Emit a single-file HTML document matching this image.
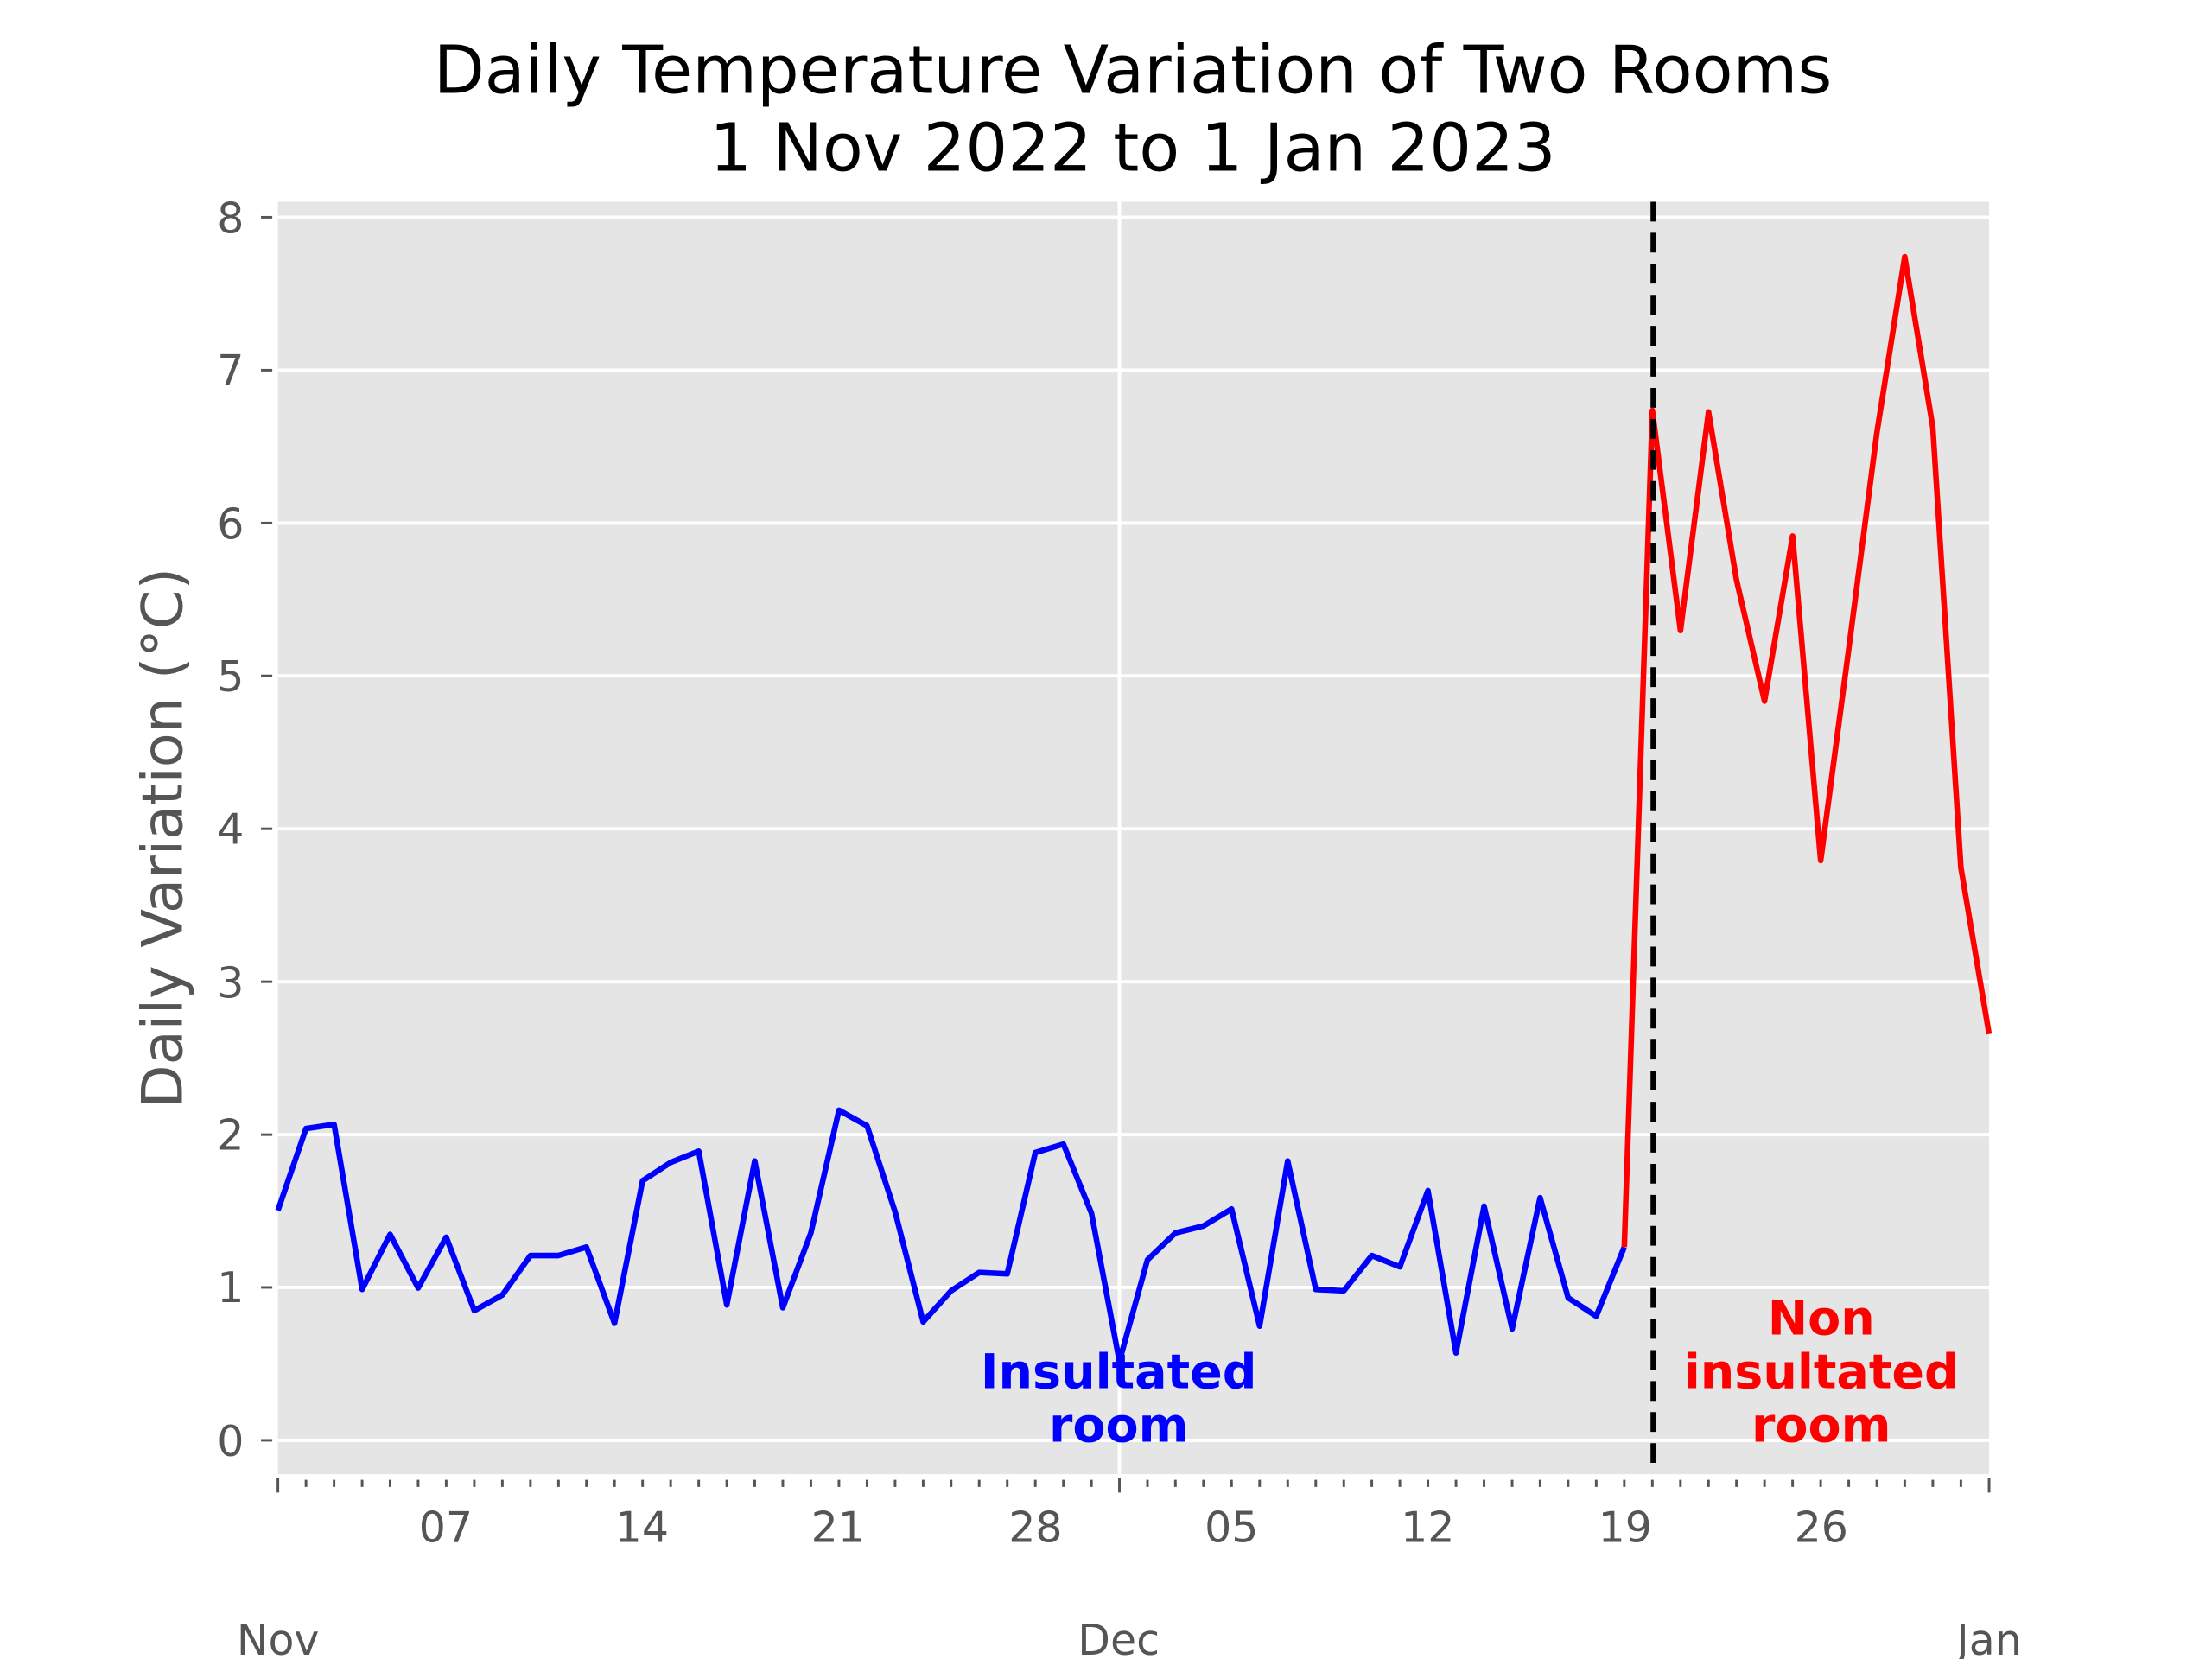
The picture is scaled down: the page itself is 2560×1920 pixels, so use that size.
<!DOCTYPE html>
<html><head><meta charset="utf-8"><style>html,body{margin:0;padding:0;background:#fff}svg{display:block}</style></head>
<body>
<svg xmlns="http://www.w3.org/2000/svg" width="2560" height="1920" viewBox="0 0 1568 1176" font-family="DejaVu Sans, Liberation Sans, sans-serif">
<rect x="0" y="0" width="1568" height="1176" fill="#fff"/>
<rect x="197" y="143" width="1213" height="902" fill="#e5e5e5"/>
<g stroke="#fff" stroke-width="2.4">
<line x1="197" x2="1410" y1="1021" y2="1021"/>
<line x1="197" x2="1410" y1="912.6" y2="912.6"/>
<line x1="197" x2="1410" y1="804.3" y2="804.3"/>
<line x1="197" x2="1410" y1="695.9" y2="695.9"/>
<line x1="197" x2="1410" y1="587.5" y2="587.5"/>
<line x1="197" x2="1410" y1="479.1" y2="479.1"/>
<line x1="197" x2="1410" y1="370.8" y2="370.8"/>
<line x1="197" x2="1410" y1="262.4" y2="262.4"/>
<line x1="197" x2="1410" y1="154" y2="154"/>
<line x1="793.5" x2="793.5" y1="143" y2="1045"/>
</g>
<g stroke="#555" stroke-width="1.8">
<line x1="185" x2="193" y1="1021" y2="1021"/><line x1="185" x2="193" y1="912.6" y2="912.6"/><line x1="185" x2="193" y1="804.3" y2="804.3"/><line x1="185" x2="193" y1="695.9" y2="695.9"/><line x1="185" x2="193" y1="587.5" y2="587.5"/><line x1="185" x2="193" y1="479.1" y2="479.1"/><line x1="185" x2="193" y1="370.8" y2="370.8"/><line x1="185" x2="193" y1="262.4" y2="262.4"/><line x1="185" x2="193" y1="154" y2="154"/>
</g>
<path stroke="#555" stroke-width="1.8" fill="none" d="M197,1048v10 M793.5,1048v10 M1410,1048v10 M216.9,1049v5 M236.8,1049v5 M256.7,1049v5 M276.5,1049v5 M296.4,1049v5 M316.3,1049v5 M336.2,1049v5 M356.1,1049v5 M376,1049v5 M395.9,1049v5 M415.7,1049v5 M435.6,1049v5 M455.5,1049v5 M475.4,1049v5 M495.3,1049v5 M515.2,1049v5 M535,1049v5 M554.9,1049v5 M574.8,1049v5 M594.7,1049v5 M614.6,1049v5 M634.5,1049v5 M654.4,1049v5 M674.2,1049v5 M694.1,1049v5 M714,1049v5 M733.9,1049v5 M753.8,1049v5 M773.7,1049v5 M813.4,1049v5 M833.2,1049v5 M853.1,1049v5 M873,1049v5 M892.9,1049v5 M912.8,1049v5 M932.7,1049v5 M952.6,1049v5 M972.4,1049v5 M992.3,1049v5 M1012.2,1049v5 M1032.1,1049v5 M1052,1049v5 M1071.9,1049v5 M1091.7,1049v5 M1111.6,1049v5 M1131.5,1049v5 M1151.4,1049v5 M1171.3,1049v5 M1191.2,1049v5 M1211.1,1049v5 M1230.9,1049v5 M1250.8,1049v5 M1270.7,1049v5 M1290.6,1049v5 M1310.5,1049v5 M1330.4,1049v5 M1350.2,1049v5 M1370.1,1049v5 M1390,1049v5"/>
<g font-size="30" fill="#555" text-anchor="end">
<text x="173" y="1032">0</text><text x="173" y="923">1</text><text x="173" y="815">2</text><text x="173" y="707">3</text><text x="173" y="598">4</text><text x="173" y="490">5</text><text x="173" y="382">6</text><text x="173" y="273">7</text><text x="173" y="165">8</text>
</g>
<g font-size="30" fill="#555" text-anchor="middle">
<text x="316" y="1093">07</text><text x="455" y="1093">14</text><text x="594" y="1093">21</text><text x="734" y="1093">28</text><text x="873" y="1093">05</text><text x="1012" y="1093">12</text><text x="1152" y="1093">19</text><text x="1291" y="1093">26</text>
<text x="197" y="1173">Nov</text><text x="793" y="1173">Dec</text><text x="1410" y="1173">Jan</text>
</g>
<text transform="translate(129,594) rotate(-90)" font-size="40" fill="#555" text-anchor="middle">Daily Variation (°C)</text>
<g font-size="47" fill="#000" text-anchor="middle">
<text x="803" y="66">Daily Temperature Variation of Two Rooms</text>
<text x="803" y="121">1 Nov 2022 to 1 Jan 2023</text>
</g>
<polyline fill="none" stroke="#0000ff" stroke-width="4" stroke-linejoin="round" points="197,858 216.9,800 236.8,797 256.7,914 276.5,875 296.4,913 316.3,877 336.2,929 356.1,918 376,890 395.9,890 415.7,884 435.6,938 455.5,837 475.4,824 495.3,816 515.2,925 535,823 554.9,927 574.8,874 594.7,787 614.6,798 634.5,859 654.4,937 674.2,915 694.1,902 714,903 733.9,817 753.8,811 773.7,860 793.5,965 813.4,893 833.2,874 853.1,869 873,857 892.9,940 912.8,823 932.7,914 952.6,915 972.4,890 992.3,898 1012.2,844 1032.1,959 1052,855 1071.9,942 1091.7,849 1111.6,920 1131.5,933 1151.4,884"/>
<polyline fill="none" stroke="#ff0000" stroke-width="4" stroke-linejoin="round" points="1151.4,884 1171.3,291 1191.2,447 1211.1,292 1230.9,411 1250.8,497 1270.7,380 1290.6,610 1310.5,460 1330.4,307 1350.2,182 1370.1,303 1390,615 1410,733"/>
<line x1="1172" x2="1172" y1="143" y2="1045" stroke="#000" stroke-width="4" stroke-dasharray="14,8"/>
<g font-size="34" font-weight="bold" text-anchor="middle">
<text x="793" y="984" fill="#0000ff">Insultated</text><text x="793" y="1022" fill="#0000ff">room</text>
<text x="1291" y="946" fill="#ff0000">Non</text><text x="1291" y="984" fill="#ff0000">insultated</text><text x="1291" y="1022" fill="#ff0000">room</text>
</g>
</svg>
</body></html>
